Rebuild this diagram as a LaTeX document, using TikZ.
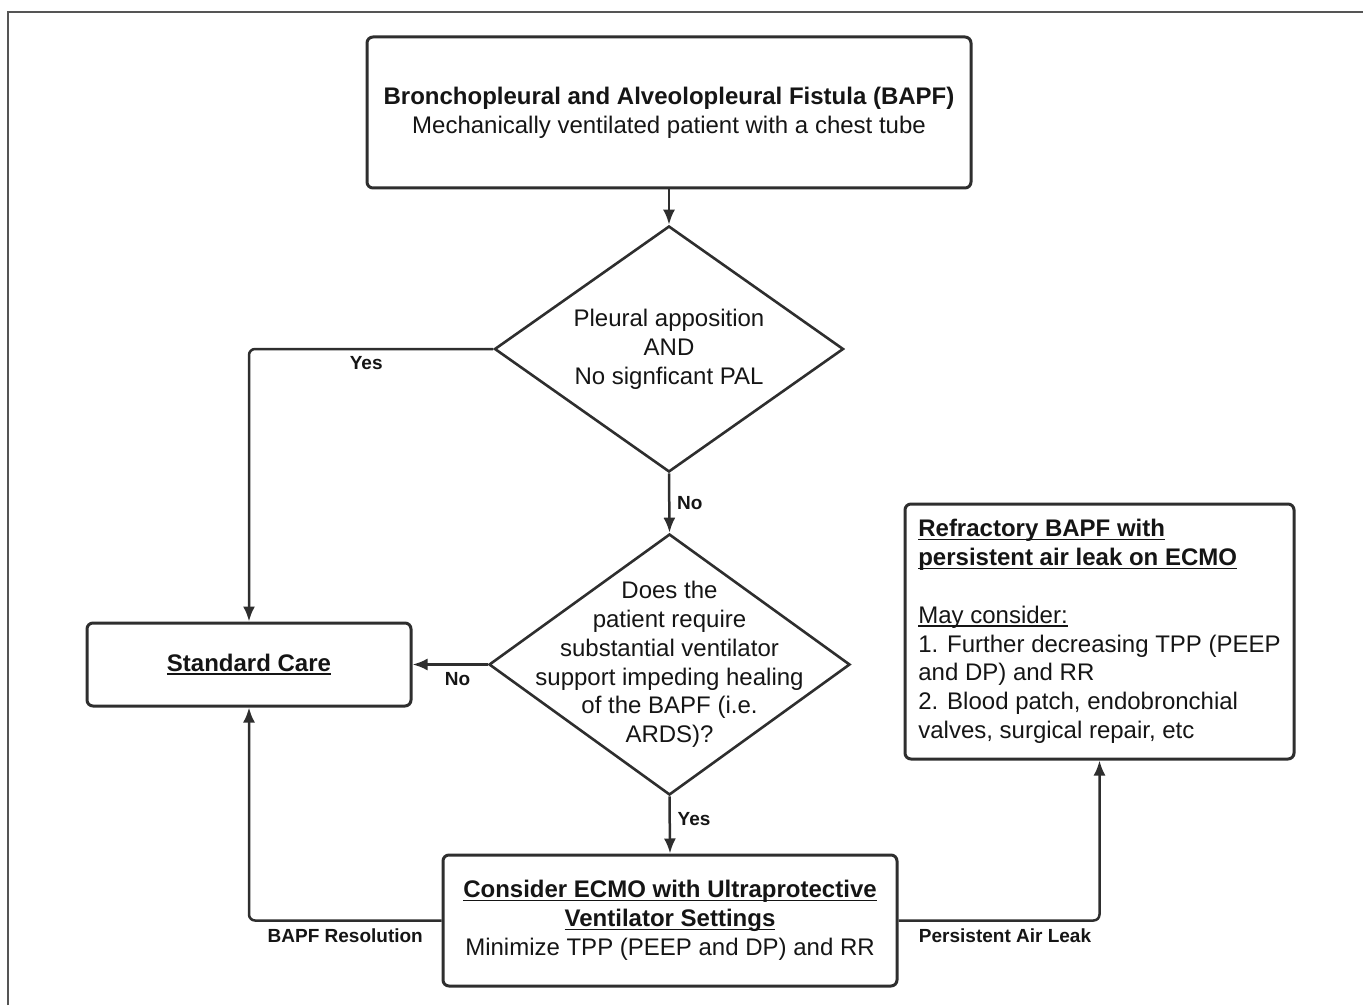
\documentclass[tikz,border=0pt]{standalone}
\usepackage{fontspec}
\setmainfont{Liberation Sans}
\usepackage{tikz}
\usetikzlibrary{arrows.meta,shapes.geometric}
\definecolor{linec}{HTML}{2E2E2E}
\definecolor{textc}{HTML}{151515}
\definecolor{framec}{HTML}{555555}
\newcommand{\undl}[1]{\setbox0\hbox{#1}\rlap{\rule[-1.7pt]{\wd0}{0.8pt}}\box0}
\tikzset{
    basenode/.style={align=center,inner sep=0pt,draw=linec,line width=1.5pt,text=textc,font=\fontsize{12pt}{14.4pt}\selectfont},
    boxnode/.style={basenode,rectangle,rounded corners=3pt},
    decisionnode/.style={basenode,diamond,line width=1.3pt},
    decisiontext/.style={align=center,text=textc,font=\fontsize{12pt}{14.4pt}\selectfont},
    edgelabel/.style={font=\bfseries\fontsize{9.5pt}{11pt}\selectfont,text=textc},
    elbow/.style={rounded corners=3pt,to path={-| (\tikztotarget) \tikztonodes}}
}
\begin{document}
\begin{tikzpicture}[->,>={Latex[length=7.5pt,width=6pt]},x=0.5pt,y=-0.5pt,line width=1.25pt,linec]
				
				\useasboundingbox (0,0) rectangle (1363,1005);
				\draw[-,line width=1pt,framec] (8,1005) -- (8,12) -- (1363,12);
				
				\node[boxnode,minimum width=302pt,minimum height=75.5pt] (BAPF) at (669,112.5) {\textbf{Bronchopleural and Alveolopleural Fistula (BAPF)}\\Mechanically ventilated patient with a chest tube};
				\node[decisionnode,minimum width=174.5pt,minimum height=123pt,label={[decisiontext]center:Pleural apposition\\AND\\No signficant PAL}] (PA) at (669,349) {};
				\node[decisionnode,minimum width=180.5pt,minimum height=130.5pt,label={[decisiontext]center:Does the\\patient require\\substantial ventilator\\support impeding healing\\of the BAPF (i.e.\\ARDS)?}] (RQ) at (669.5,664.5) {};
				\node[boxnode,minimum width=162pt,minimum height=41.5pt] (SC) at (249,664.5) {\undl{\textbf{Standard Care}}};
				\node[boxnode,minimum width=227pt,minimum height=65.5pt] (ECMO) at (670,920.5) {\undl{\textbf{Consider ECMO with Ultraprotective}}\\\undl{\textbf{Ventilator Settings}}\\Minimize TPP (PEEP and DP) and RR};
				\node[boxnode,align=left,minimum width=194.5pt,minimum height=127.5pt] (RF) at (1099.5,631.5) {\undl{\textbf{Refractory BAPF with}}\\\undl{\textbf{persistent air leak on ECMO}}\\[14.4pt]\undl{May consider:}\\1. Further decreasing TPP (PEEP\\and DP) and RR\\2. Blood patch, endobronchial\\valves, surgical repair, etc};
				
				\path
				(BAPF.south) edge (PA.north)
				(PA.west) edge[elbow] node[edgelabel,below,pos=0.26] {Yes} (SC.north)
				(PA.south) edge node[edgelabel,right] {No} (RQ.north)
				(RQ.west) edge node[edgelabel,below,pos=0.4] {No} (SC.east)
				(RQ.south) edge node[edgelabel,right,pos=0.4] {Yes} (ECMO.north)
				(ECMO.west) edge[elbow] node[edgelabel,below,pos=0.25] {BAPF Resolution} (SC.south)
				(ECMO.east) edge[elbow] node[edgelabel,below,pos=0.265] {Persistent Air Leak} (RF.south);
			\end{tikzpicture}
\end{document}
